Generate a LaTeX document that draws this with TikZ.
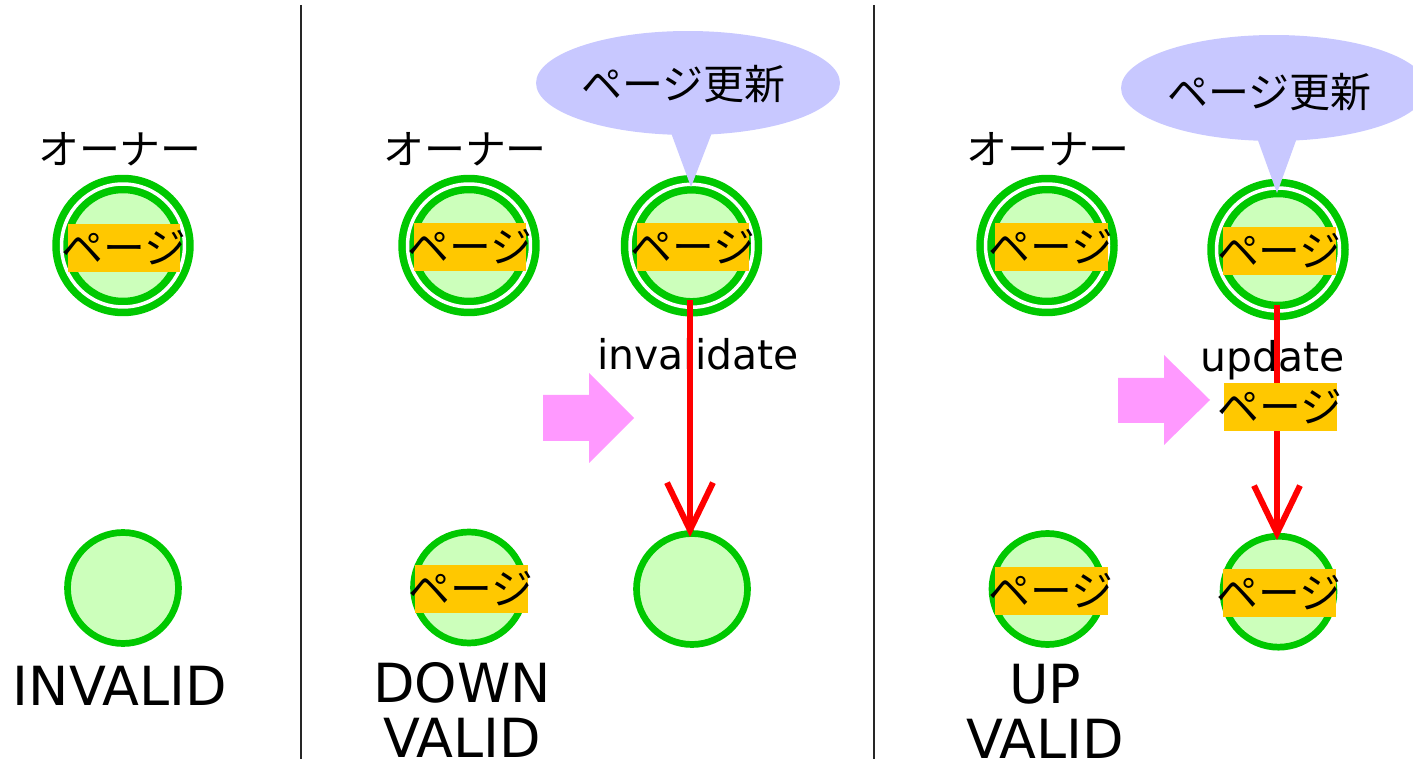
\documentclass[tikz,border=0pt]{standalone}
\usepackage{fontspec}
\setmainfont{DejaVu Sans}
\newfontfamily\jp{Noto Sans CJK JP}
\usetikzlibrary{arrows.meta,shapes.geometric}
\definecolor{ringgreen}{RGB}{0,200,0}
\definecolor{cellfill}{RGB}{204,255,187}
\definecolor{pageorange}{RGB}{255,200,0}
\definecolor{bubblecol}{RGB}{200,200,255}
\definecolor{pinkarrow}{RGB}{255,153,255}
\definecolor{redline}{RGB}{255,0,0}
\newcommand\pagetext{\makebox[2.26cm]{ページ}}
\tikzset{
  dcell/.style={circle,draw=ringgreen,fill=cellfill,line width=0.15cm,double=white,double distance=0.07cm,minimum size=2.46cm,inner sep=0pt,outer sep=0pt},
  scell/.style={circle,draw=ringgreen,fill=cellfill,line width=0.134cm,minimum size=2.22cm,inner sep=0pt,outer sep=0pt},
  pagebox/.style={rectangle,fill=pageorange,minimum width=2.26cm,minimum height=0.96cm,inner sep=0pt,font=\jp\fontsize{23.8}{28}\selectfont},
  ownertxt/.style={inner sep=0pt,font=\jp\fontsize{23.3}{28}\selectfont},
  bubble/.style={ellipse,fill=bubblecol,inner sep=0pt},
  bubbletxt/.style={inner sep=0pt,font=\jp\fontsize{23.3}{28}\selectfont},
  optxt/.style={inner sep=0pt,anchor=base,font=\fontsize{23.3}{28}\selectfont},
  statetxt/.style={inner sep=0pt,anchor=base,align=center,font=\fontsize{30.7}{31.3}\selectfont},
  redarrow/.style={draw=redline,line width=0.12cm,-{Straight Barb[length=0.95cm,width=0.92cm,sharp]}},
  sep/.style={draw=black!85,line width=0.05cm},
  pink/.style={fill=pinkarrow}
}
\begin{document}
\begin{tikzpicture}[x=0.02cm,y=-0.02cm]
\useasboundingbox (0,0) rectangle (1413,759);
% separators
\coordinate (s1t) at (301,5); \coordinate (s1b) at (301,765);
\coordinate (s2t) at (874,5); \coordinate (s2b) at (874,765);
\draw[sep] (s1t) -- (s1b);
\draw[sep] (s2t) -- (s2b);

% ---- panel 1: INVALID
\node[ownertxt] (own1) at (120,149) {オーナー};
\node[dcell] (c1a) at (123,245.5) {};
\node[pagebox] (p1a) at (124,248) {\pagetext};
\node[scell] (c1b) at (123,588) {};
\node[statetxt] (st1) at (120,705) {INVALID};

% ---- panel 2: DOWN VALID
\node[ownertxt] (own2) at (465,149) {オーナー};
\node[dcell] (c2a) at (469,245.5) {};
\node[pagebox] (p2a) at (470,247) {\pagetext};
\node[dcell] (c2b) at (691.5,245.8) {};
\node[pagebox] (p2b) at (693,246.7) {\pagetext};
\node[scell] (c2c) at (469,587.5) {};
\node[pagebox] (p2c) at (471.3,589) {\pagetext};
\node[scell] (c2d) at (692,589) {};
\node[bubble,minimum width=6.08cm,minimum height=2.08cm] (b2) at (688,83) {};
\fill[bubblecol] (670,130) -- (713,130) -- (691,187) -- cycle;
\node[bubbletxt] (b2t) at (683,84) {ページ更新};
\node[statetxt] (st2) at (462,757) {DOWN\\VALID};
\fill[pink] (543,395) -- (589,395) -- (589,373) -- (634,418) -- (589,463) -- (589,441) -- (543,441) -- cycle;
\node[optxt] (inv) at (698,370) {invalidate};
\coordinate (a2s) at (690,300);
\coordinate (a2e) at (690,537);
\draw[redarrow] (a2s) -- (a2e);

% ---- panel 3: UP VALID
\node[ownertxt] (own3) at (1048,149) {オーナー};
\node[dcell] (c3a) at (1047,245.5) {};
\node[pagebox] (p3a) at (1051,247) {\pagetext};
\node[dcell] (c3b) at (1278,249.5) {};
\node[pagebox] (p3b) at (1279.4,251) {\pagetext};
\node[scell] (c3c) at (1047.5,589) {};
\node[pagebox] (p3c) at (1051,591) {\pagetext};
\node[scell] (c3d) at (1278.5,591.7) {};
\node[pagebox] (p3d) at (1279,593) {\pagetext};
\node[bubble,minimum width=6.12cm,minimum height=2.12cm] (b3) at (1274,88) {};
\fill[bubblecol] (1256,135) -- (1298,135) -- (1277,193) -- cycle;
\node[bubbletxt] (b3t) at (1269,92) {ページ更新};
\node[statetxt] (st3) at (1045,758) {UP\\VALID};
\fill[pink] (1118,378) -- (1164,378) -- (1164,355) -- (1210,400) -- (1164,445) -- (1164,423) -- (1118,423) -- cycle;
\node[optxt] (upd) at (1273,372) {update};
\coordinate (a3s) at (1277,305);
\coordinate (a3e) at (1277,540);
\draw[redarrow] (a3s) -- (a3e);
\node[pagebox] (p3m) at (1280,407) {\pagetext};
\end{tikzpicture}
\end{document}
